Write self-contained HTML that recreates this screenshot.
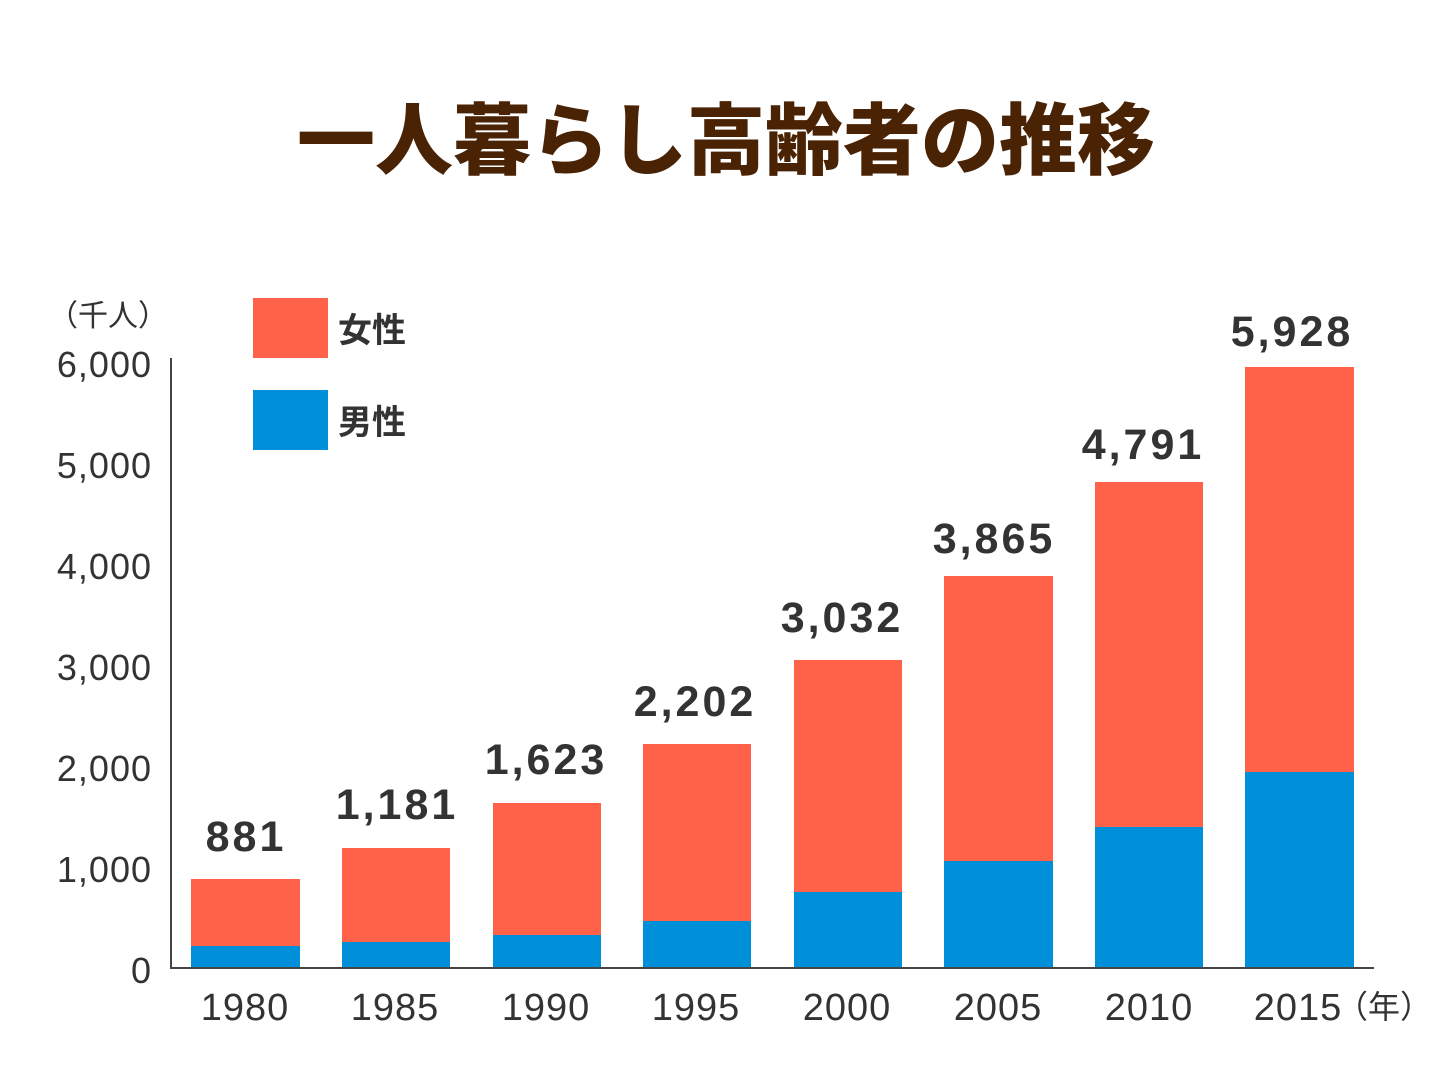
<!DOCTYPE html>
<html><head><meta charset="utf-8"><style>
html,body{margin:0;padding:0;background:#fff;}
svg{display:block;}
text{font-family:"Liberation Sans","Noto Sans CJK JP",sans-serif;}
</style></head><body>
<svg width="1452" height="1089" viewBox="0 0 1452 1089" xmlns="http://www.w3.org/2000/svg">
<text x="726" y="168" text-anchor="middle" font-size="78" font-weight="900" fill="#4a2204" font-family="Noto Sans CJK JP, sans-serif">一人暮らし高齢者の推移</text>
<text x="108" y="326" text-anchor="middle" font-size="30" fill="#333" font-family="Noto Sans CJK JP, sans-serif">（千人）</text>
<rect x="253" y="298" width="75" height="60" fill="#ff6249"/>
<rect x="253" y="390" width="75" height="60" fill="#0090da"/>
<text x="338" y="342" font-size="34" font-weight="bold" fill="#333" font-family="Noto Sans CJK JP, sans-serif">女性</text>
<text x="338" y="434" font-size="34" font-weight="bold" fill="#333" font-family="Noto Sans CJK JP, sans-serif">男性</text>
<g font-size="36" fill="#333" text-anchor="end" letter-spacing="1">
<text x="152" y="983">0</text>
<text x="152" y="882">1,000</text>
<text x="152" y="781">2,000</text>
<text x="152" y="680">3,000</text>
<text x="152" y="579">4,000</text>
<text x="152" y="478">5,000</text>
<text x="152" y="377">6,000</text>
</g>
<g>
<rect x="191" y="879" width="109" height="89" fill="#ff6249"/><rect x="191" y="946" width="109" height="22" fill="#0090da"/>
<rect x="342" y="848" width="108" height="120" fill="#ff6249"/><rect x="342" y="942" width="108" height="26" fill="#0090da"/>
<rect x="493" y="803" width="108" height="165" fill="#ff6249"/><rect x="493" y="935" width="108" height="33" fill="#0090da"/>
<rect x="643" y="744" width="108" height="224" fill="#ff6249"/><rect x="643" y="921" width="108" height="47" fill="#0090da"/>
<rect x="794" y="660" width="108" height="308" fill="#ff6249"/><rect x="794" y="892" width="108" height="76" fill="#0090da"/>
<rect x="944" y="576" width="109" height="392" fill="#ff6249"/><rect x="944" y="861" width="109" height="107" fill="#0090da"/>
<rect x="1095" y="482" width="108" height="486" fill="#ff6249"/><rect x="1095" y="827" width="108" height="141" fill="#0090da"/>
<rect x="1245" y="367" width="109" height="601" fill="#ff6249"/><rect x="1245" y="772" width="109" height="196" fill="#0090da"/>
</g>
<line x1="171" y1="358" x2="171" y2="968" stroke="#444" stroke-width="2"/>
<line x1="170" y1="968" x2="1374" y2="968" stroke="#444" stroke-width="2"/>
<g font-size="43" font-weight="bold" fill="#333" text-anchor="middle" letter-spacing="3">
<text x="246" y="851">881</text>
<text x="397" y="819">1,181</text>
<text x="546" y="774">1,623</text>
<text x="695" y="716">2,202</text>
<text x="842" y="632">3,032</text>
<text x="994" y="553">3,865</text>
<text x="1143" y="459">4,791</text>
<text x="1292" y="346">5,928</text>
</g>
<g font-size="38" fill="#333" text-anchor="middle" letter-spacing="1">
<text x="245" y="1020">1980</text>
<text x="395" y="1020">1985</text>
<text x="546" y="1020">1990</text>
<text x="696" y="1020">1995</text>
<text x="847" y="1020">2000</text>
<text x="998" y="1020">2005</text>
<text x="1149" y="1020">2010</text>
<text x="1298" y="1020">2015</text>
</g>
<text x="1384" y="1018" text-anchor="middle" font-size="32" fill="#333" font-family="Noto Sans CJK JP, sans-serif">（年）</text>
</svg>
</body></html>
